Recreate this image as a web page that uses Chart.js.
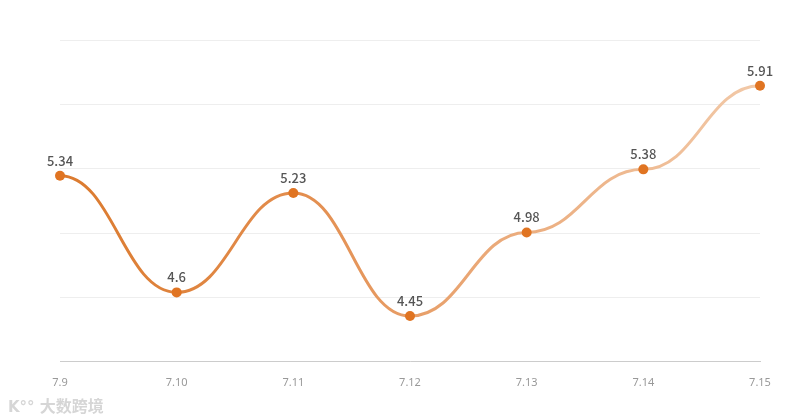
<!DOCTYPE html>
<html lang="zh">
<head>
  <meta charset="UTF-8" />
  <title>Line chart 7.9 - 7.15</title>
  <style>
    html, body {
      margin: 0;
      padding: 0;
      background: #fff;
    }
    .wrap {
      position: relative;
      width: 800px;
      height: 420px;
    }
    .watermark {
      position: absolute;
      left: 8px;
      top: 394px;
      font-family: 'Noto Sans CJK SC', sans-serif;
      font-size: 16px;
      font-weight: bold;
      line-height: 22px;
      color: #d6d6d6;
    }
    .watermark .logo {
      font-family: 'DejaVu Sans', sans-serif;
      font-size: 15px;
      margin-right: 5px;
    }
  </style>
</head>
<body>
  <div class="wrap">
    <canvas id="lineChart" width="800" height="420"></canvas>
    <div class="watermark"><span class="logo">K°°</span>大数跨境</div>
  </div>

  <script src="https://cdn.jsdelivr.net/npm/chart.js"></script>
  <script>
    // data
    const dates = ['7.9', '7.10', '7.11', '7.12', '7.13', '7.14', '7.15'];
    const values = [5.34, 4.6, 5.23, 4.45, 4.98, 5.38, 5.91];
    const yGridValues = [4.16, 4.568, 4.976, 5.384, 5.792, 6.2];

    // curve with flat tangents at every point (like the original)
    const flatCurve = {
      id: 'flatCurve',
      beforeDatasetDraw(chart, args) {
        const meta = args.meta;
        meta.dataset.updateControlPoints(chart.chartArea, 'x');
        const pts = meta.data;
        const t = 0.45;
        for (let i = 0; i < pts.length; i++) {
          const p = pts[i];
          const prev = pts[i - 1] || p;
          const next = pts[i + 1] || p;
          p.cp1x = p.x - (p.x - prev.x) * t;
          p.cp1y = p.y;
          p.cp2x = p.x + (next.x - p.x) * t;
          p.cp2y = p.y;
        }
      }
    };

    // value labels above points
    const valueLabels = {
      id: 'valueLabels',
      afterDatasetsDraw(chart) {
        const c = chart.ctx;
        const meta = chart.getDatasetMeta(0);
        c.save();
        c.font = '500 13px "Noto Sans CJK SC", sans-serif';
        c.fillStyle = '#555';
        c.textAlign = 'center';
        c.textBaseline = 'middle';
        meta.data.forEach((pt, i) => {
          c.fillText(String(values[i]), pt.x, pt.y - 15);
        });
        c.restore();
      }
    };

    function lineGradient(context) {
      const area = context.chart.chartArea;
      if (!area) return '#e08a45';
      const g = context.chart.ctx.createLinearGradient(area.left, 0, area.right, 0);
      g.addColorStop(0, '#db7a2e');
      g.addColorStop(0.35, '#e38e4f');
      g.addColorStop(0.6, '#eaa877');
      g.addColorStop(1, '#f2c9a8');
      return g;
    }

    const ctx = document.getElementById('lineChart').getContext('2d');
    new Chart(ctx, {
      type: 'line',
      data: {
        labels: dates,
        datasets: [{
          data: values,
          borderColor: lineGradient,
          borderWidth: 3,
          tension: 0.4,
          fill: false,
          pointRadius: 5,
          pointHoverRadius: 5,
          pointBackgroundColor: '#e07422',
          pointBorderColor: '#e07422',
          pointBorderWidth: 0
        }]
      },
      options: {
        responsive: false,
        animation: false,
        devicePixelRatio: 1,
        layout: {
          padding: { left: 60, right: 40, top: 40, bottom: 25 }
        },
        plugins: {
          legend: { display: false },
          tooltip: { enabled: false }
        },
        scales: {
          x: {
            offset: false,
            grid: { display: false },
            border: { display: true, color: '#cccccc', width: 1 },
            ticks: {
              color: '#999',
              font: { family: 'Noto Sans', size: 11 },
              padding: 6,
              maxRotation: 0,
              autoSkip: false
            }
          },
          y: {
            min: 4.16,
            max: 6.2,
            afterBuildTicks(scale) {
              scale.ticks = yGridValues.map(v => ({ value: v }));
            },
            grid: { color: '#eeeeee', drawTicks: false, tickLength: 0 },
            border: { display: false },
            ticks: { display: false }
          }
        }
      },
      plugins: [flatCurve, valueLabels]
    });
  </script>
</body>
</html>
